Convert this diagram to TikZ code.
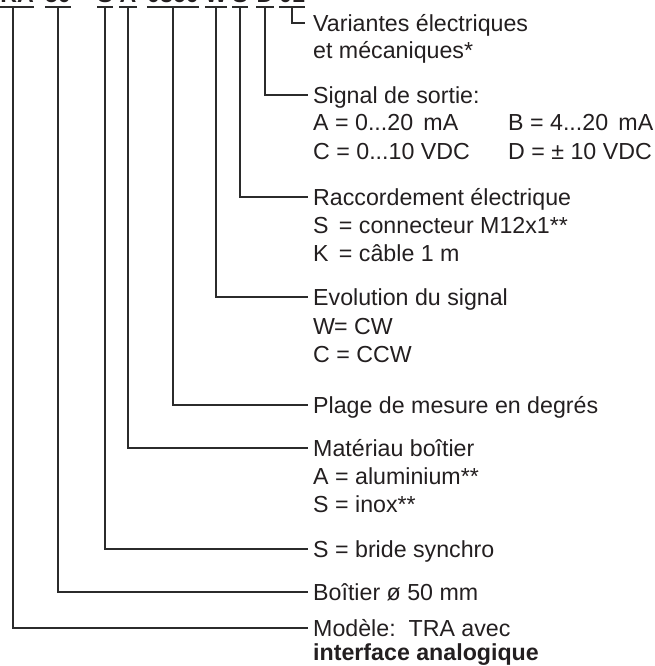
\documentclass[tikz,border=0pt]{standalone}
\usepackage{fontspec}
\setmainfont{Liberation Sans}
\definecolor{txt}{HTML}{231F20}
\definecolor{ln}{HTML}{2B2B2B}
\tikzset{
  lbl/.style={anchor=west, inner xsep=5pt, inner ysep=0pt, text height=16.6pt, text depth=0pt,
              font=\fontsize{23.2}{27}\selectfont, text=txt},
  sub/.style={anchor=base west, inner sep=0pt, font=\fontsize{23.2}{27}\selectfont, text=txt},
  code/.style={anchor=base, inner sep=0pt, font=\fontsize{23.2}{27}\selectfont\bfseries, text=txt},
  conn/.style={draw=ln, line width=1.1pt},
  uline/.style={draw=ln, line width=1.1pt},
}
\begin{document}
\begin{tikzpicture}[x=1pt, y=-1pt]
\useasboundingbox (0,0) rectangle (655,666);
\clip (0,0) rectangle (655,666);
% code pieces (only their bottoms show)
\node[code, anchor=base east] (p1) at (34,2.5) {TRA};
\node[code] (p2) at (58,2.5) {50};
\node[code] (p3) at (105,2.5) {S};
\node[code] (p4) at (128,2.5) {A};
\node[code] (p5) at (173,2.5) {0360};
\node[code] (p6) at (216,2.5) {W};
\node[code] (p7) at (240,2.5) {S};
\node[code] (p8) at (265,2.5) {D};
\node[code] (p9) at (292,2.5) {01};
\foreach \p in {p1,p2,p3,p4,p5,p6,p7,p8,p9}
  \draw[uline] ([yshift=-4.5pt]\p.base west) -- ([yshift=-4.5pt]\p.base east);

% labels
\node[lbl, inner xsep=8pt] (l1) at (305,23) {Variantes électriques};
\node[sub] (l1b) at (313,59) {et mécaniques*};

\node[lbl] (l2) at (308,95) {Signal de sortie:};
\node[sub] (l2b) at (313,131) {A = 0...20\, mA};
\node[sub] (l2c) at (508,131) {B = 4...20\, mA};
\node[sub] (l2d) at (313,159) {C = 0...10 VDC};
\node[sub] (l2e) at (508,159) {D = ± 10 VDC};

\node[lbl] (l3) at (308,197) {Raccordement électrique};
\node[sub] (l3b) at (313,233) {S\, = connecteur M12x1**};
\node[sub] (l3c) at (313,261) {K\, = câble 1 m};

\node[lbl] (l4) at (308,297) {Evolution du signal};
\node[sub] (l4b) at (313,334) {W\kern-1pt = CW};
\node[sub] (l4c) at (313,362) {C = CCW};

\node[lbl] (l5) at (308,405) {Plage de mesure en degrés};

\node[lbl] (l6) at (308,448) {Matériau boîtier};
\node[sub] (l6b) at (313,484) {A = aluminium**};
\node[sub] (l6c) at (313,512) {S = inox**};

\node[lbl] (l7) at (308,549) {S = bride synchro};

\node[lbl] (l8) at (308,592) {Boîtier ø 50 mm};

\node[lbl] (l9) at (308,628) {Modèle:\ \ TRA avec};
\node[sub, font=\fontsize{23.2}{27}\selectfont\bfseries] (l9b) at (313,660) {interface analogique};

% connectors
\draw[conn] ([yshift=-4.5pt]p9.base) |- (l1.west);
\draw[conn] ([yshift=-4.5pt]p8.base) |- (l2.west);
\draw[conn] ([yshift=-4.5pt]p7.base) |- (l3.west);
\draw[conn] ([yshift=-4.5pt]p6.base) |- (l4.west);
\draw[conn] ([yshift=-4.5pt]p5.base) |- (l5.west);
\draw[conn] ([yshift=-4.5pt]p4.base) |- (l6.west);
\draw[conn] ([yshift=-4.5pt]p3.base) |- (l7.west);
\draw[conn] ([yshift=-4.5pt]p2.base) |- (l8.west);
\draw[conn] ([xshift=-21pt,yshift=-4.5pt]p1.base east) |- (l9.west);
\end{tikzpicture}
\end{document}
